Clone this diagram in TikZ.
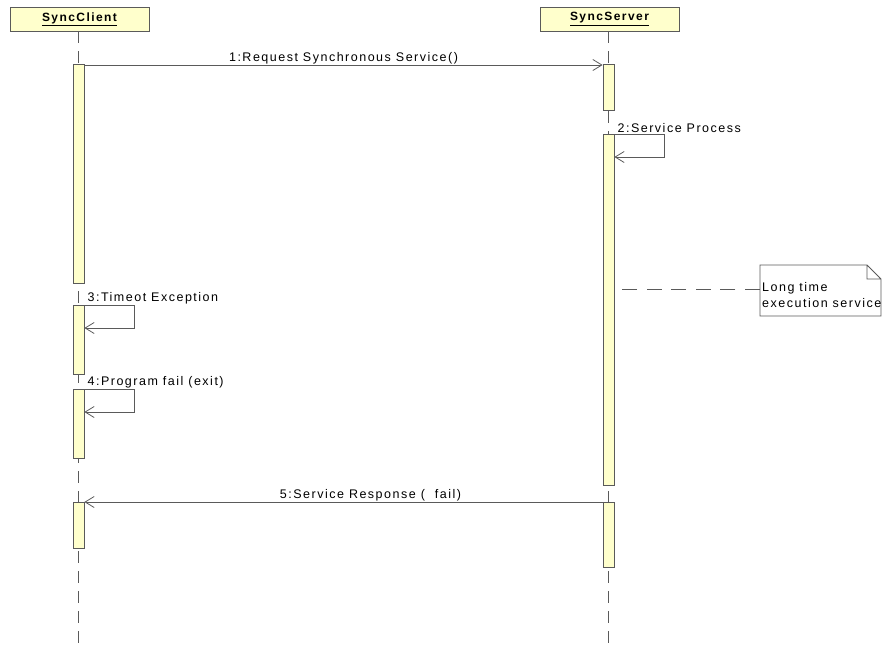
\documentclass[tikz,border=0pt]{standalone}
\usepackage{fontspec}
\setmainfont{Liberation Sans}[LetterSpace=12]
\usetikzlibrary{arrows.meta}

\definecolor{lineGray}{HTML}{5A5A5A}
\definecolor{actYellow}{HTML}{FFFFCC}

\def\actWidth{11}
\def\loopWidth{50}
\def\loopHeight{23}

\tikzset{
    head/.style = {draw = lineGray, fill = actYellow, line width = 0.8pt,
        minimum width = 139pt, minimum height = 24pt, inner sep = 0pt,
        font = \bfseries\fontsize{12}{14}\selectfont},
    act/.style = {draw = lineGray, fill = actYellow, line width = 0.8pt,
        minimum width = \actWidth pt, inner sep = 0pt, anchor = north},
    life/.style = {draw = lineGray, line width = 0.8pt, dash pattern = on 12pt off 8pt},
    msg/.style = {draw = lineGray, line width = 0.8pt,
        -{Straight Barb[length = 9pt, width = 11pt, line width = 0.8pt]}},
    lbl/.style = {font = \fontsize{12.5}{16}\selectfont, inner sep = 1pt}
}

\begin{document}
\begin{tikzpicture}[x = 1pt, y = -1pt]
            \useasboundingbox (0,0) rectangle (882,651);
            % lifeline heads
            \node [head] (client) at (79.5,19) {\underline{SyncClient}};
            \node [head] (server) at (609.5,19) {\underline{SyncServer}};
            \coordinate (clientEnd) at (78,651);
            \coordinate (serverEnd) at (608,651);
            \draw [life] (client.south -| clientEnd) -- (clientEnd);
            \draw [life] (server.south -| serverEnd) -- (serverEnd);
            % activations
            \node [act, minimum height = 219pt] (c1) at (78.5,64) {};
            \node [act, minimum height = 69pt] (c2) at (78.5,305) {};
            \node [act, minimum height = 69pt] (c3) at (78.5,389) {};
            \node [act, minimum height = 46pt] (c4) at (78.5,502) {};
            \node [act, minimum height = 46pt] (s1) at (608.5,64) {};
            \node [act, minimum height = 351pt] (s2) at (608.5,134) {};
            \node [act, minimum height = 65pt] (s3) at (608.5,502) {};
            % messages
            \draw [msg] (c1.north east) ++(0,1) coordinate (m1)
            -- (m1 -| s1.west)
            node [lbl, midway, above = 0pt] {1:Request Synchronous Service()}
            ;
            \draw [msg]
            (s2.north east) -- ++(\loopWidth,0) -- ++(0,\loopHeight)
            -- ++(-\loopWidth,0)
            ;
            \node [lbl, anchor = south west] (l2) at ([xshift = 2pt]s2.north east) {2:Service Process};
            \draw [msg]
            (c2.north east) -- ++(\loopWidth,0) -- ++(0,\loopHeight)
            -- ++(-\loopWidth,0)
            ;
            \node [lbl, anchor = south west] (l3) at ([xshift = 2pt]c2.north east) {3:Timeot Exception};
            \draw [msg]
            (c3.north east) -- ++(\loopWidth,0) -- ++(0,\loopHeight)
            -- ++(-\loopWidth,0)
            ;
            \node [lbl, anchor = south west] (l4) at ([xshift = 2pt]c3.north east) {4:Program fail (exit)};
            \draw [msg] (s3.north west) -- (s3.north west -| c4.east)
            node [lbl, midway, above = 0pt, xshift = 27pt] {5:Service Response (\ \ fail)}
            ;
            % note
            \draw [draw = lineGray, line width = 0.8pt, fill = white]
            (760,265) coordinate (noteTL)
            -- (867,265) -- (881,279) -- (881,316) -- (760,316) -- cycle
            (867,265) -- (867,279) -- (881,279)
            ;
            \node [lbl, anchor = north west, align = left] (noteText) at (761,281)
            {Long time\\execution service};
            \coordinate (noteLink) at (760,289);
            \draw [draw = lineGray, line width = 0.8pt, dash pattern = on 15pt off 9.6pt]
            (noteLink) -- ([xshift = 8pt]s2.east |- noteLink)
            ;
        \end{tikzpicture}
\end{document}
